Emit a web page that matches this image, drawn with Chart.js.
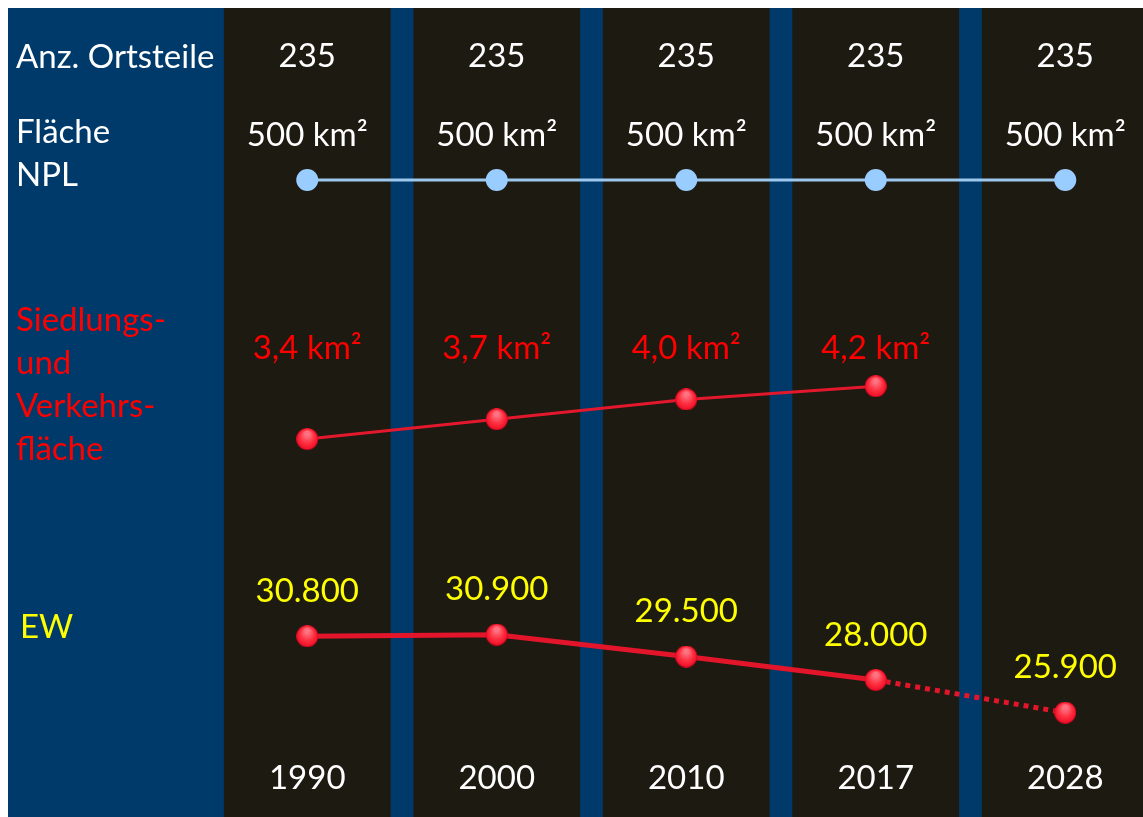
<!DOCTYPE html>
<html lang="de">
<head>
<meta charset="utf-8">
<title>Ortsteile, Fläche und Einwohner 1990–2028</title>
<script src="https://cdn.jsdelivr.net/npm/chart.js@4.4.1/dist/chart.umd.min.js"></script>
<style>
  html, body { margin: 0; background: #ffffff; }
  #chartBox {
    position: absolute;
    left: 8px;
    top: 8px;
    width: 1135px;
    height: 809px;
    background: #003a6b;
  }
</style>
</head>
<body>
<div id="chartBox"><canvas id="chart"></canvas></div>
<script>
const years = ['1990', '2000', '2010', '2017', '2028'];
const ortsteile = [235, 235, 235, 235, 235];
const flaecheNpl = [500, 500, 500, 500, 500];
const siedlungsflaeche = [3.4, 3.7, 4.0, 4.2];
const einwohner = [30800, 30900, 29500, 28000, 25900];

const captionOrtsteile = ['Anz. Ortsteile'];
const captionNpl = ['Fläche', 'NPL'];
const captionSvf = ['Siedlungs-', 'und', 'Verkehrs-', 'fläche'];
const captionEw = ['EW'];

const FONT = '33px Lato, "Open Sans", sans-serif';
const COLUMN_COLOR = '#1d1a12';
const AREA_HEIGHT = 809;
const PLOT_LEFT = 204.5;   // left edge of the first year slot
const SLOT = 189.5;        // width of one year slot
const PLOT_WIDTH = 1135 - PLOT_LEFT;

// a linear axis on which `value` sits at `pixel`, with pxPerUnit pixels per unit
function axisThrough(value, pixel, pxPerUnit) {
  return {
    type: 'linear',
    display: false,
    min: value - (AREA_HEIGHT - pixel) / pxPerUnit,
    max: value + pixel / pxPerUnit
  };
}

const toPoints = arr => arr.map((v, i) => ({ x: i, y: v }));

const fmtKm = v => v.toFixed(1).replace('.', ',') + ' km²';
const fmtThousands = v => String(v).replace(/\B(?=(\d{3})+(?!\d))/g, '.');

// glossy red marker
function makeSphere(r) {
  const c = document.createElement('canvas');
  c.width = c.height = r * 2;
  const g = c.getContext('2d');
  const grad = g.createRadialGradient(r, r * 0.5, r * 0.2, r, r, r);
  grad.addColorStop(0, '#ff7482');
  grad.addColorStop(0.55, '#ff2f40');
  grad.addColorStop(0.9, '#f2142b');
  grad.addColorStop(1, '#c0001c');
  g.fillStyle = grad;
  g.beginPath();
  g.arc(r, r, r, 0, Math.PI * 2);
  g.fill();
  return c;
}
const sphere = makeSphere(11);

// dark vertical bands behind each year
const yearColumns = {
  id: 'yearColumns',
  beforeDatasetsDraw(chart) {
    const { ctx, scales: { x } } = chart;
    ctx.save();
    ctx.fillStyle = COLUMN_COLOR;
    years.forEach((_, i) => {
      const left = x.getPixelForValue(i - 0.44);
      const right = x.getPixelForValue(i + 0.44);
      ctx.fillRect(left, 0, right - left, chart.height);
    });
    ctx.restore();
  }
};

// captions, value labels and years
const textLayer = {
  id: 'textLayer',
  afterDatasetsDraw(chart) {
    const { ctx, scales: { x } } = chart;
    ctx.save();
    ctx.font = FONT;
    ctx.textBaseline = 'middle';

    const caption = (lines, color, left, top) => {
      ctx.fillStyle = color;
      lines.forEach((t, k) => ctx.fillText(t, left, top + k * 43));
    };
    ctx.textAlign = 'left';
    caption(captionOrtsteile, '#ffffff', 8, 49);
    caption(captionNpl, '#ffffff', 8, 124);
    caption(captionSvf, '#ff0000', 8, 312);
    caption(captionEw, '#ffff00', 12, 619);

    ctx.textAlign = 'center';
    ctx.fillStyle = '#ffffff';
    ortsteile.forEach((v, i) => ctx.fillText(String(v), x.getPixelForValue(i), 48));
    years.forEach((y, i) => ctx.fillText(y, x.getPixelForValue(i), 770));

    const npl = chart.getDatasetMeta(0).data;
    flaecheNpl.forEach((v, i) => ctx.fillText(v + ' km²', npl[i].x, npl[i].y - 45));

    ctx.fillStyle = '#ff0000';
    const svf = chart.getDatasetMeta(1).data;
    siedlungsflaeche.forEach((v, i) => ctx.fillText(fmtKm(v), svf[i].x, 340));

    ctx.fillStyle = '#ffff00';
    const ew = chart.getDatasetMeta(2).data;
    einwohner.forEach((v, i) => ctx.fillText(fmtThousands(v), ew[i].x, ew[i].y - 45));

    ctx.restore();
  }
};

new Chart(document.getElementById('chart'), {
  type: 'line',
  data: {
    datasets: [
      {
        label: 'Fläche NPL',
        data: toPoints(flaecheNpl),
        yAxisID: 'yNpl',
        borderColor: '#9dc8ee',
        borderWidth: 3,
        pointRadius: 11,
        pointBackgroundColor: '#99ccff',
        pointBorderWidth: 0
      },
      {
        label: 'Siedlungs- und Verkehrsfläche',
        data: toPoints(siedlungsflaeche),
        yAxisID: 'ySvf',
        borderColor: '#e3182c',
        borderWidth: 3,
        pointRadius: 11,
        pointStyle: sphere
      },
      {
        label: 'EW',
        data: toPoints(einwohner),
        yAxisID: 'yEw',
        borderColor: '#e3152b',
        borderWidth: 5,
        pointRadius: 11,
        pointStyle: sphere,
        segment: {
          // forecast part is dotted
          borderDash: ctx => ctx.p1DataIndex === einwohner.length - 1 ? [5, 5] : undefined
        }
      }
    ]
  },
  options: {
    responsive: true,
    maintainAspectRatio: false,
    animation: false,
    layout: { autoPadding: false, padding: { left: PLOT_LEFT } },
    scales: {
      x: { type: 'linear', display: false, min: -0.5, max: -0.5 + PLOT_WIDTH / SLOT },
      yNpl: axisThrough(500, 172, 1),
      ySvf: axisThrough(3.825, 403, 66),
      yEw: axisThrough(29020, 656, 0.0156)
    },
    plugins: {
      legend: { display: false },
      tooltip: { enabled: false }
    }
  },
  plugins: [yearColumns, textLayer]
});
</script>
</body>
</html>
